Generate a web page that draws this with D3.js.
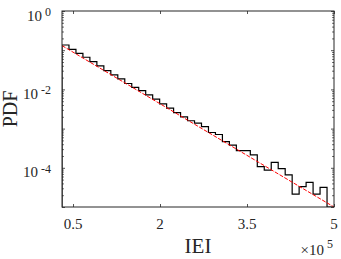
<!DOCTYPE html>
<html>
<head>
<meta charset="UTF-8">
<script src="https://d3js.org/d3.v7.min.js"></script>
<style>
  body { margin: 0; background: #fff; }
  text { font-family: "Liberation Serif", "Times New Roman", serif; fill: #262626; }
</style>
</head>
<body>
<div id="chart"></div>
<script>
// histogram of IEI (x in units of 1e5), 39 bins
const binStart = 0.31;
const binWidth = 0.12026;
const pdfLog10 = [
  -0.867, -0.978, -1.08, -1.18, -1.29, -1.40, -1.52, -1.63, -1.73, -1.85,
  -1.95, -2.03, -2.14, -2.25, -2.37, -2.48, -2.59, -2.70, -2.80, -2.86,
  -2.95, -3.10, -3.15, -3.33, -3.42, -3.56, -3.56, -3.67, -3.97, -4.06,
  -3.86, -4.02, -4.18, -4.67, -4.48, -4.37, -4.67, -4.50, -5.00
];
// fitted line end points
const fitX = [0.31, 5];
const fitY = [0.131, 1e-5];

const xTicks = [0.5, 2, 3.5, 5];
const xTickLabels = ["0.5", "2", "3.5", "5"];
const yTicks = [1, 1e-2, 1e-4];
const yTickExp = ["0", "-2", "-4"];

const W = 341, H = 259;
const margin = { top: 11, right: 7, bottom: 52, left: 62 };
const axisColor = "#262626";

const svg = d3.select("#chart").append("svg")
  .attr("width", W).attr("height", H);

const x = d3.scaleLinear().domain([0.31, 5]).range([margin.left, W - margin.right]);
const y = d3.scaleLog().domain([1e-5, 1]).range([H - margin.bottom, margin.top]);

svg.append("clipPath").attr("id", "clip").append("rect")
  .attr("x", margin.left).attr("y", margin.top)
  .attr("width", W - margin.left - margin.right)
  .attr("height", H - margin.top - margin.bottom);

const plot = svg.append("g").attr("clip-path", "url(#clip)");

// stairs outline
const values = pdfLog10.map(v => Math.pow(10, v));
const pts = [];
const bottom = y.range()[0] + 5;
pts.push([x(binStart), bottom]);
values.forEach((v, i) => {
  pts.push([x(binStart + i * binWidth), y(v)]);
  pts.push([x(binStart + (i + 1) * binWidth), y(v)]);
});
pts.push([x(binStart + values.length * binWidth), bottom]);

plot.append("path")
  .attr("d", d3.line()(pts))
  .attr("fill", "none")
  .attr("stroke", "#000")
  .attr("stroke-width", 1.2);

plot.append("path")
  .attr("d", d3.line()(fitX.map((d, i) => [x(d), y(fitY[i])])))
  .attr("fill", "none")
  .attr("stroke", "#ff0000")
  .attr("stroke-width", 1)
  .attr("stroke-dasharray", "4,1.5");

// axes (MATLAB style box, ticks inward)
const x0 = margin.left, x1 = W - margin.right;
const y0 = H - margin.bottom, y1 = margin.top;
const axes = svg.append("g");

axes.append("g").attr("transform", `translate(0,${y0})`)
  .call(d3.axisTop(x).tickValues(xTicks).tickSize(3).tickFormat(""))
  .call(g => g.select(".domain").remove());
axes.append("g").attr("transform", `translate(0,${y1})`)
  .call(d3.axisBottom(x).tickValues(xTicks).tickSize(3).tickFormat(""))
  .call(g => g.select(".domain").remove());

const minor = [];
for (let e = -5; e < 0; e++) for (let m = 2; m <= 9; m++) minor.push(m * Math.pow(10, e));
const major = [1e-5, 1e-4, 1e-3, 1e-2, 1e-1, 1];

[[x0, d3.axisRight], [x1, d3.axisLeft]].forEach(([pos, ax]) => {
  axes.append("g").attr("transform", `translate(${pos},0)`)
    .call(ax(y).tickValues(major).tickSize(3).tickFormat(""))
    .call(g => g.select(".domain").remove());
  axes.append("g").attr("transform", `translate(${pos},0)`)
    .call(ax(y).tickValues(minor).tickSize(1.8).tickFormat(""))
    .call(g => g.select(".domain").remove());
});

axes.selectAll("line").attr("stroke", axisColor).attr("stroke-width", 0.8);

axes.append("rect")
  .attr("x", x0).attr("y", y1)
  .attr("width", x1 - x0).attr("height", y0 - y1)
  .attr("fill", "none").attr("stroke", axisColor).attr("stroke-width", 1);

// x tick labels
svg.append("g").selectAll("text").data(xTicks).join("text")
  .attr("x", d => x(d)).attr("y", y0 + 21.5)
  .attr("text-anchor", "middle").attr("font-size", 15)
  .text((d, i) => xTickLabels[i]);

// y tick labels
const yl = svg.append("g").selectAll("text").data(yTicks).join("text")
  .attr("x", 51).attr("y", d => y(d) + 9.5)
  .attr("text-anchor", "end").attr("font-size", 15);
yl.append("tspan").text("10");
yl.append("tspan").attr("dx", 3).attr("dy", -4.5).attr("font-size", 12)
  .text((d, i) => yTickExp[i]);

// exponent note
const ex = svg.append("text").attr("x", 333).attr("y", 255)
  .attr("text-anchor", "end").attr("font-size", 15);
ex.append("tspan").text("\u00d710");
ex.append("tspan").attr("dx", 3).attr("dy", -7).attr("font-size", 12).text("5");

// axis titles
svg.append("text").attr("x", (x0 + x1) / 2).attr("y", 253)
  .attr("text-anchor", "middle").attr("font-size", 21).text("IEI");
svg.append("text").attr("transform", `translate(17,${(y0 + y1) / 2}) rotate(-90)`)
  .attr("text-anchor", "middle").attr("font-size", 20).text("PDF");
</script>
</body>
</html>
